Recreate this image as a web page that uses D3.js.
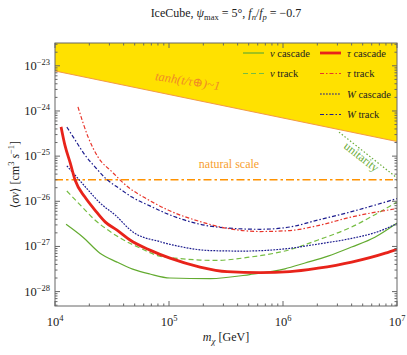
<!DOCTYPE html>
<html>
<head>
<meta charset="utf-8">
<script src="https://cdn.jsdelivr.net/npm/d3@7"></script>
<style>
  body { margin: 0; background: #fff; }
  svg { font-family: "Liberation Serif", "DejaVu Serif", serif; }
</style>
</head>
<body>
<div id="chart"></div>
<script>
// masses in GeV, <sigma v> in cm^3/s
const nuCascadeM = [1.25e4, 1.76e4, 2.48e4, 3.5e4, 4.8e4, 6.8e4, 1.02e5, 2.29e5, 5.1e5, 1.04e6, 1.56e6, 2.48e6, 4.0e6, 6.4e6, 1e7];
const nuCascadeSV = [3.1e-27, 1.6e-27, 7.1e-28, 4.5e-28, 3.15e-28, 2.45e-28, 2.0e-28, 1.94e-28, 2.38e-28, 3.2e-28, 4.3e-28, 6.1e-28, 9.7e-28, 1.6e-27, 3.3e-27];

const nuTrackM = [1.27e4, 1.73e4, 2.24e4, 2.92e4, 3.72e4, 5.6e4, 8.3e4, 1.25e5, 1.87e5, 2.53e5, 5.1e5, 1.15e6, 2.03e6, 4.0e6, 6.8e6, 1e7];
const nuTrackSV = [1.69e-26, 7.5e-27, 3.85e-27, 2.3e-27, 1.54e-27, 9.2e-28, 6.1e-28, 5.4e-28, 5.0e-28, 4.9e-28, 5.8e-28, 8.5e-28, 1.39e-27, 2.7e-27, 5.5e-27, 9.6e-27];

const tauCascadeM = [1.13e4, 1.22e4, 1.36e4, 1.5e4, 1.83e4, 2.24e4, 2.75e4, 3.5e4, 4.55e4, 6.8e4, 1.02e5, 1.87e5, 3.23e5, 6.3e5, 1.15e6, 2.03e6, 4.0e6, 7.9e6, 1e7];
const tauCascadeSV = [4.44e-25, 1.77e-25, 7.06e-26, 2.96e-26, 1.24e-26, 6.4e-27, 3.5e-27, 2.3e-27, 1.39e-27, 8.3e-28, 5.5e-28, 3.5e-28, 2.77e-28, 2.64e-28, 2.77e-28, 3.3e-28, 4.5e-28, 7.1e-28, 8.7e-28];

const tauTrackM = [1.59e4, 1.95e4, 2.38e4, 3.16e4, 4.37e4, 6.2e4, 9.8e4, 1.87e5, 3.23e5, 6.3e5, 1.15e6, 2.03e6, 4.0e6, 1e7];
const tauTrackSV = [1.23e-24, 2.67e-25, 9.6e-26, 4.5e-26, 2.07e-26, 1.18e-26, 6.4e-27, 3.56e-27, 2.52e-27, 2.14e-27, 2.25e-27, 2.9e-27, 4.5e-27, 6.9e-27];

const wCascadeM = [1.27e4, 1.5e4, 1.95e4, 2.48e4, 3.36e4, 4.83e4, 8.3e4, 1.25e5, 2.29e5, 4.46e5, 1.15e6, 2.03e6, 4.0e6, 6.8e6, 1e7];
const wCascadeSV = [6.1e-26, 3.8e-26, 1.78e-26, 9.2e-27, 5.0e-27, 2.08e-27, 1.28e-27, 9.95e-28, 8.1e-28, 7.9e-28, 9.1e-28, 1.13e-27, 1.51e-27, 2.12e-27, 3.2e-27];

const wTrackM = [1.27e4, 1.5e4, 1.83e4, 2.24e4, 2.75e4, 3.72e4, 4.73e4, 6.8e4, 9.8e4, 1.87e5, 3.23e5, 6.3e5, 1.15e6, 2.03e6, 4.0e6, 1e7];
const wTrackSV = [4.4e-25, 2.29e-25, 1.06e-25, 5.8e-26, 3.3e-26, 1.87e-26, 1.24e-26, 7.9e-27, 5.2e-27, 3.1e-27, 2.56e-27, 2.4e-27, 2.7e-27, 3.85e-27, 5.9e-27, 1.15e-26];

const tanhM = [1e4, 1e7];
const tanhSV = [7.7e-24, 2.1e-25];
const unitarityM = [3.1e6, 1e7];
const unitaritySV = [3.4e-25, 3.3e-26];
const naturalSV = 3e-26;

const xTicks = [1e4, 1e5, 1e6, 1e7];
const yTicks = [1e-28, 1e-27, 1e-26, 1e-25, 1e-24, 1e-23];

const width = 407, height = 355;
const margin = { top: 43, right: 10, bottom: 49, left: 55 };
const w = width - margin.left - margin.right;
const h = height - margin.top - margin.bottom;

const svg = d3.select("#chart").append("svg")
  .attr("width", width).attr("height", height);

const x = d3.scaleLog().domain([1e4, 1e7]).range([0, w]);
const y = d3.scaleLog().domain([4.8e-29, 3.2e-23]).range([h, 0]);

const g = svg.append("g").attr("transform", `translate(${margin.left},${margin.top})`);

svg.append("defs").append("clipPath").attr("id", "clip")
  .append("rect").attr("width", w).attr("height", h);

const plot = g.append("g").attr("clip-path", "url(#clip)");

// excluded region above tanh line
const tanhPts = tanhM.map((m, i) => [x(m), y(tanhSV[i])]);
plot.append("path")
  .attr("d", d3.line()([[x(1e4), -5], [x(1e7), -5], tanhPts[1], tanhPts[0]]))
  .attr("fill", "#ffe100");
plot.append("path")
  .attr("d", d3.line()(tanhPts))
  .attr("fill", "none").attr("stroke", "#f39a45").attr("stroke-width", 1.1);

// natural scale
plot.append("line")
  .attr("x1", 0).attr("x2", w)
  .attr("y1", y(naturalSV)).attr("y2", y(naturalSV))
  .attr("stroke", "#ff9200").attr("stroke-width", 1.4)
  .attr("stroke-dasharray", "8,3,2.5,3");

// unitarity
plot.append("path")
  .attr("d", d3.line()(unitarityM.map((m, i) => [x(m), y(unitaritySV[i])])))
  .attr("fill", "none").attr("stroke", "#6aad3a").attr("stroke-width", 1.2)
  .attr("stroke-dasharray", "1.5,2");

const series = [
  { m: nuCascadeM, sv: nuCascadeSV, color: "#63ab30", width: 1.2, dash: null },
  { m: nuTrackM, sv: nuTrackSV, color: "#76bd43", width: 1.2, dash: "5,3" },
  { m: wCascadeM, sv: wCascadeSV, color: "#1c1c8e", width: 1.2, dash: "1.8,1.2" },
  { m: wTrackM, sv: wTrackSV, color: "#1c1c8e", width: 1.2, dash: "4,2,1.5,2" },
  { m: tauTrackM, sv: tauTrackSV, color: "#e8352b", width: 1.2, dash: "4,2,1.5,2" },
  { m: tauCascadeM, sv: tauCascadeSV, color: "#e8231a", width: 2.8, dash: null }
];

const line = d3.line().curve(d3.curveMonotoneX);
series.forEach(s => {
  plot.append("path")
    .attr("d", line(s.m.map((m, i) => [x(m), y(s.sv[i])])))
    .attr("fill", "none")
    .attr("stroke", s.color)
    .attr("stroke-width", s.width)
    .attr("stroke-dasharray", s.dash);
});

// labels inside the plot
g.append("text")
  .attr("transform", `translate(${187 - margin.left},${85 - margin.top}) rotate(9)`)
  .attr("text-anchor", "middle")
  .attr("fill", "#f08a28").attr("font-size", 12.5).attr("font-style", "italic")
  .text("tanh(t/τ⊕)~1");

g.append("text")
  .attr("x", 229 - margin.left).attr("y", 168 - margin.top)
  .attr("text-anchor", "middle")
  .attr("fill", "#f7a030").attr("font-size", 12)
  .text("natural scale");

g.append("text")
  .attr("transform", `translate(${359 - margin.left},${160 - margin.top}) rotate(38)`)
  .attr("text-anchor", "middle")
  .attr("fill", "#6aad3a").attr("font-size", 12)
  .text("unitarity");

// legend
const legend = [
  { label: ["ν", " cascade"], col: 0, row: 0, s: series[0] },
  { label: ["τ", " cascade"], col: 1, row: 0, s: series[5] },
  { label: ["ν", " track"], col: 0, row: 1, s: series[1] },
  { label: ["τ", " track"], col: 1, row: 1, s: series[4] },
  { label: ["W", " cascade"], col: 1, row: 2, s: series[2] },
  { label: ["W", " track"], col: 1, row: 3, s: series[3] }
];
const lg = svg.append("g");
legend.forEach(d => {
  const lx = d.col === 0 ? 243 : 320;
  const ly = 53 + d.row * 20.5;
  lg.append("line")
    .attr("x1", lx).attr("x2", lx + 21).attr("y1", ly).attr("y2", ly)
    .attr("stroke", d.s.color).attr("stroke-width", d.s.width)
    .attr("stroke-dasharray", d.s.dash);
  const t = lg.append("text").attr("x", lx + 27).attr("y", ly + 3.5)
    .attr("font-size", 10.5).attr("fill", "#222");
  t.append("tspan").attr("font-style", "italic").text(d.label[0]);
  t.append("tspan").text(d.label[1]);
});

// frame and ticks
const frame = "#666";
g.append("rect").attr("width", w).attr("height", h)
  .attr("fill", "none").attr("stroke", frame).attr("stroke-width", 1);

function minorTicks(domain) {
  const out = [];
  for (let e = Math.floor(Math.log10(domain[0])); e <= Math.ceil(Math.log10(domain[1])); e++) {
    for (let k = 1; k < 10; k++) {
      const v = k * Math.pow(10, e);
      if (v >= domain[0] && v <= domain[1]) out.push({ v, major: k === 1 });
    }
  }
  return out;
}

minorTicks(x.domain()).forEach(t => {
  const L = t.major ? 5 : 2.5;
  const px = x(t.v);
  g.append("line").attr("x1", px).attr("x2", px).attr("y1", h).attr("y2", h - L).attr("stroke", frame);
  g.append("line").attr("x1", px).attr("x2", px).attr("y1", 0).attr("y2", L).attr("stroke", frame);
});
minorTicks(y.domain()).forEach(t => {
  const L = t.major ? 5 : 2.5;
  const py = y(t.v);
  g.append("line").attr("x1", 0).attr("x2", L).attr("y1", py).attr("y2", py).attr("stroke", frame);
  g.append("line").attr("x1", w).attr("x2", w - L).attr("y1", py).attr("y2", py).attr("stroke", frame);
});

xTicks.forEach(v => {
  const t = g.append("text").attr("x", x(v)).attr("y", h + 20)
    .attr("text-anchor", "middle").attr("font-size", 12.5).attr("fill", "#222");
  t.append("tspan").text("10");
  t.append("tspan").attr("dy", -5).attr("font-size", 8.5).text(Math.round(Math.log10(v)));
});
yTicks.forEach(v => {
  const t = g.append("text").attr("x", -5).attr("y", y(v) + 4)
    .attr("text-anchor", "end").attr("font-size", 12.5).attr("fill", "#222");
  t.append("tspan").text("10");
  t.append("tspan").attr("dy", -5).attr("font-size", 8.5).text("−" + Math.round(-Math.log10(v)));
});

// axis titles
const xl = svg.append("text").attr("x", margin.left + w / 2).attr("y", 341)
  .attr("text-anchor", "middle").attr("font-size", 12).attr("fill", "#222");
xl.append("tspan").attr("font-style", "italic").text("m");
xl.append("tspan").attr("font-style", "italic").attr("font-size", 9).attr("dy", 3).text("χ");
xl.append("tspan").attr("dy", -3).text(" [GeV]");

const yl = svg.append("text")
  .attr("transform", `translate(19,${margin.top + h / 2}) rotate(-90)`)
  .attr("text-anchor", "middle").attr("font-size", 12).attr("fill", "#222");
yl.append("tspan").text("⟨");
yl.append("tspan").attr("font-style", "italic").text("σv");
yl.append("tspan").text("⟩ [cm");
yl.append("tspan").attr("font-size", 8.5).attr("dy", -5).text("3");
yl.append("tspan").attr("dy", 5).text(" ");
yl.append("tspan").attr("font-style", "italic").text("s");
yl.append("tspan").attr("font-size", 8.5).attr("dy", -5).text("−1");
yl.append("tspan").attr("dy", 5).text("]");

// title
const title = svg.append("text").attr("x", margin.left + w / 2).attr("y", 17)
  .attr("text-anchor", "middle").attr("font-size", 12).attr("fill", "#222");
title.append("tspan").text("IceCube, ");
title.append("tspan").attr("font-style", "italic").text("ψ");
title.append("tspan").attr("font-size", 8.5).attr("dy", 3).text("max");
title.append("tspan").attr("dy", -3).text(" = 5°, ");
title.append("tspan").attr("font-style", "italic").text("f");
title.append("tspan").attr("font-style", "italic").attr("font-size", 8.5).attr("dy", 3).text("n");
title.append("tspan").attr("dy", -3).text("/");
title.append("tspan").attr("font-style", "italic").text("f");
title.append("tspan").attr("font-style", "italic").attr("font-size", 8.5).attr("dy", 3).text("p");
title.append("tspan").attr("dy", -3).text(" = −0.7");
</script>
</body>
</html>
